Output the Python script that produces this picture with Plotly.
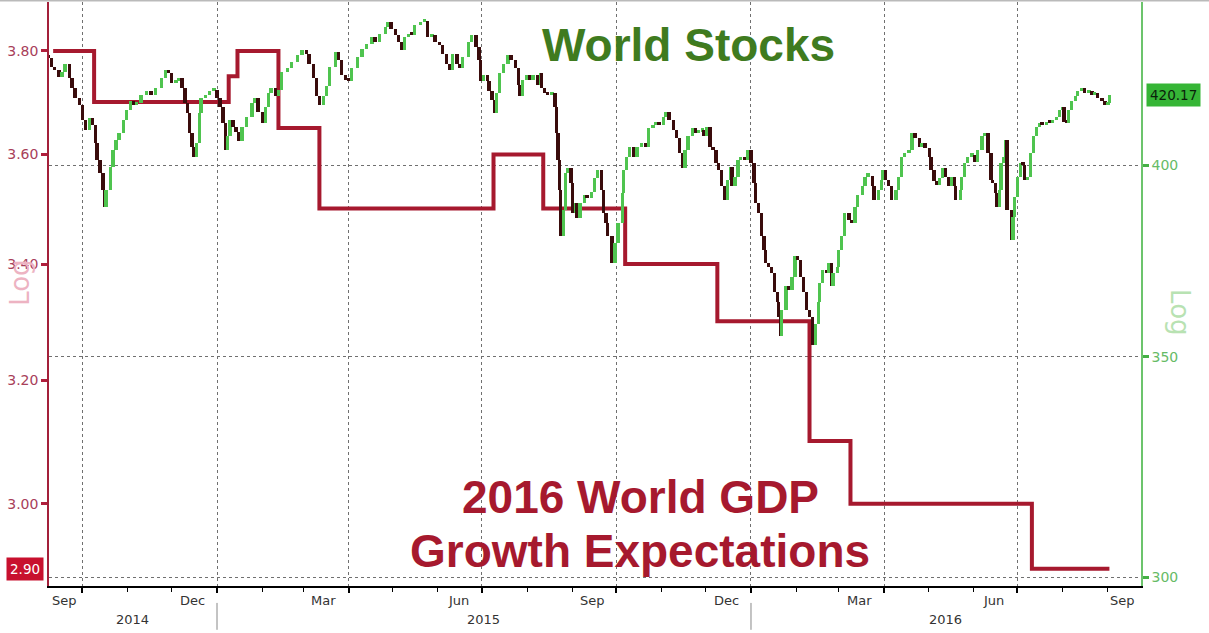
import math
import plotly.graph_objects as go

# ---------------- data ----------------
GDP_DATES = ["2014-09-11", "2014-10-09", "2015-01-09", "2015-01-15", "2015-02-12",
             "2015-03-12", "2015-07-09", "2015-08-12", "2015-10-07", "2015-12-09",
             "2016-02-10", "2016-03-09", "2016-07-11", "2016-09-02"]
GDP_VALUES = [3.80, 3.70, 3.75, 3.80, 3.65, 3.50, 3.60, 3.50, 3.40, 3.30, 3.10, 3.00, 2.90, 2.90]

STOCK_DATES = [
    "2014-09-08", "2014-09-10", "2014-09-12", "2014-09-15", "2014-09-17", "2014-09-19", "2014-09-22",
    "2014-09-24", "2014-09-26", "2014-09-29", "2014-10-01", "2014-10-03", "2014-10-06", "2014-10-08",
    "2014-10-10", "2014-10-11", "2014-10-13", "2014-10-15", "2014-10-16", "2014-10-17", "2014-10-20",
    "2014-10-22", "2014-10-24", "2014-10-26", "2014-10-29", "2014-10-31", "2014-11-03", "2014-11-05",
    "2014-11-07", "2014-11-10", "2014-11-14", "2014-11-17", "2014-11-20", "2014-11-24", "2014-11-27",
    "2014-11-29", "2014-12-01", "2014-12-04", "2014-12-06", "2014-12-08", "2014-12-10", "2014-12-12",
    "2014-12-13", "2014-12-15", "2014-12-16", "2014-12-18", "2014-12-20", "2014-12-21", "2014-12-24",
    "2014-12-27", "2014-12-30", "2015-01-01", "2015-01-03", "2015-01-05", "2015-01-07", "2015-01-08",
    "2015-01-10", "2015-01-12", "2015-01-14", "2015-01-16", "2015-01-18", "2015-01-21", "2015-01-25",
    "2015-01-27", "2015-01-29", "2015-02-01", "2015-02-03", "2015-02-05", "2015-02-07", "2015-02-10",
    "2015-02-12", "2015-02-14", "2015-02-18", "2015-02-21", "2015-02-25", "2015-02-28", "2015-03-03",
    "2015-03-05", "2015-03-08", "2015-03-10", "2015-03-12", "2015-03-15", "2015-03-17", "2015-03-19",
    "2015-03-23", "2015-03-25", "2015-03-27", "2015-03-30", "2015-04-01", "2015-04-03", "2015-04-07",
    "2015-04-10", "2015-04-13", "2015-04-17", "2015-04-19", "2015-04-22", "2015-04-26", "2015-04-28",
    "2015-04-30", "2015-05-03", "2015-05-05", "2015-05-07", "2015-05-09", "2015-05-12", "2015-05-14",
    "2015-05-16", "2015-05-20", "2015-05-23", "2015-05-25", "2015-05-28", "2015-05-30", "2015-06-02",
    "2015-06-04", "2015-06-07", "2015-06-09", "2015-06-11", "2015-06-14", "2015-06-16", "2015-06-18",
    "2015-06-22", "2015-06-24", "2015-06-27", "2015-06-29", "2015-06-30", "2015-07-02", "2015-07-05",
    "2015-07-06", "2015-07-08", "2015-07-10", "2015-07-11", "2015-07-13", "2015-07-16", "2015-07-19",
    "2015-07-21", "2015-07-24", "2015-07-26", "2015-07-27", "2015-07-29", "2015-08-01", "2015-08-03",
    "2015-08-05", "2015-08-08", "2015-08-10", "2015-08-11", "2015-08-13", "2015-08-15", "2015-08-18",
    "2015-08-20", "2015-08-21", "2015-08-22", "2015-08-23", "2015-08-24", "2015-08-26", "2015-08-27",
    "2015-08-29", "2015-08-31", "2015-09-01", "2015-09-03", "2015-09-04", "2015-09-06", "2015-09-09",
    "2015-09-11", "2015-09-14", "2015-09-16", "2015-09-18", "2015-09-21", "2015-09-22", "2015-09-24",
    "2015-09-25", "2015-09-28", "2015-09-30", "2015-10-02", "2015-10-05", "2015-10-06", "2015-10-08",
    "2015-10-10", "2015-10-13", "2015-10-15", "2015-10-18", "2015-10-21", "2015-10-23", "2015-10-26",
    "2015-10-28", "2015-10-30", "2015-11-02", "2015-11-04", "2015-11-06", "2015-11-09", "2015-11-11",
    "2015-11-13", "2015-11-15", "2015-11-17", "2015-11-19", "2015-11-22", "2015-11-24", "2015-11-26",
    "2015-11-29", "2015-11-30", "2015-12-02", "2015-12-04", "2015-12-06", "2015-12-08", "2015-12-10",
    "2015-12-12", "2015-12-14", "2015-12-16", "2015-12-18", "2015-12-19", "2015-12-21", "2015-12-23",
    "2015-12-25", "2015-12-28", "2015-12-30", "2016-01-01", "2016-01-03", "2016-01-04", "2016-01-06",
    "2016-01-08", "2016-01-10", "2016-01-11", "2016-01-13", "2016-01-15", "2016-01-17", "2016-01-19",
    "2016-01-20", "2016-01-21", "2016-01-22", "2016-01-25", "2016-01-27", "2016-01-29", "2016-01-31",
    "2016-02-02", "2016-02-04", "2016-02-06", "2016-02-08", "2016-02-10", "2016-02-12", "2016-02-14",
    "2016-02-16", "2016-02-17", "2016-02-19", "2016-02-22", "2016-02-23", "2016-02-25", "2016-02-26",
    "2016-02-29", "2016-03-01", "2016-03-03", "2016-03-05", "2016-03-08", "2016-03-10", "2016-03-12",
    "2016-03-14", "2016-03-17", "2016-03-19", "2016-03-21", "2016-03-24", "2016-03-25", "2016-03-28",
    "2016-03-30", "2016-03-31", "2016-04-02", "2016-04-04", "2016-04-06", "2016-04-09", "2016-04-11",
    "2016-04-13", "2016-04-15", "2016-04-18", "2016-04-20", "2016-04-22", "2016-04-25", "2016-04-27",
    "2016-04-29", "2016-05-02", "2016-05-03", "2016-05-05", "2016-05-07", "2016-05-09", "2016-05-11",
    "2016-05-13", "2016-05-15", "2016-05-17", "2016-05-19", "2016-05-20", "2016-05-23", "2016-05-24",
    "2016-05-26", "2016-05-28", "2016-05-31", "2016-06-02", "2016-06-04", "2016-06-07", "2016-06-09",
    "2016-06-11", "2016-06-13", "2016-06-14", "2016-06-16", "2016-06-17", "2016-06-19", "2016-06-20",
    "2016-06-22", "2016-06-23", "2016-06-24", "2016-06-27", "2016-06-28", "2016-06-29", "2016-07-01",
    "2016-07-03", "2016-07-05", "2016-07-06", "2016-07-08", "2016-07-10", "2016-07-12", "2016-07-14",
    "2016-07-16", "2016-07-18", "2016-07-21", "2016-07-23", "2016-07-25", "2016-07-28", "2016-07-30",
    "2016-08-01", "2016-08-02", "2016-08-04", "2016-08-05", "2016-08-07", "2016-08-10", "2016-08-11",
    "2016-08-14", "2016-08-16", "2016-08-19", "2016-08-21", "2016-08-23", "2016-08-25", "2016-08-28",
    "2016-08-30", "2016-09-01", "2016-09-02"]

STOCK_CLOSE = [
    431.2, 428.5, 427.6, 425.6, 427.1, 429.5, 425.1, 422.2, 419.3, 417.3, 412.9, 410.1, 413.4, 411.5,
    406.3, 401.6, 397.9, 393.3, 388.7, 393.3, 399.7, 404.4, 407.2, 409.1, 412.9, 415.8, 418.3, 417.3,
    417.8, 420.3, 421.3, 420.3, 422.2, 425.1, 427.6, 426.6, 423.7, 424.2, 425.1, 422.2, 417.8, 414.8,
    409.1, 405.3, 402.5, 406.3, 414.8, 419.3, 420.3, 421.3, 421.8, 419.3, 416.8, 412.0, 404.4, 408.2,
    412.9, 411.0, 409.6, 406.8, 411.0, 413.9, 417.8, 419.3, 415.2, 412.0, 416.8, 420.8, 422.2, 419.8,
    421.8, 427.1, 428.1, 430.0, 432.0, 433.5, 432.5, 429.5, 425.1, 419.8, 417.3, 419.8, 422.7, 428.5,
    433.0, 430.6, 426.1, 424.6, 424.2, 428.1, 431.5, 434.0, 435.5, 437.5, 436.0, 438.6, 440.6, 442.1,
    440.1, 438.1, 436.0, 433.5, 437.5, 438.6, 438.1, 441.1, 442.1, 442.6, 437.5, 438.1, 436.0, 435.0,
    432.5, 429.5, 427.6, 432.5, 429.5, 428.1, 431.5, 435.9, 438.1, 434.5, 430.6, 424.2, 426.1, 424.2,
    421.3, 418.8, 414.8, 420.8, 426.6, 429.5, 432.0, 430.6, 428.1, 423.2, 419.8, 424.6, 426.1, 424.6,
    426.1, 423.2, 426.6, 422.2, 420.8, 420.3, 420.8, 416.8, 409.1, 401.6, 393.3, 380.7, 387.8, 397.9,
    399.2, 395.1, 386.9, 389.6, 385.6, 389.6, 391.9, 391.0, 392.8, 396.5, 398.8, 393.3, 386.9, 384.2,
    380.7, 373.6, 378.9, 384.2, 392.4, 398.8, 402.5, 405.3, 402.5, 405.3, 406.3, 405.3, 410.6, 411.5,
    412.0, 411.5, 413.9, 415.3, 412.9, 410.1, 407.8, 403.6, 399.2, 404.4, 408.2, 410.6, 409.1, 409.6,
    410.1, 408.2, 411.0, 405.3, 404.4, 400.6, 398.8, 394.2, 390.5, 396.0, 399.7, 394.2, 396.9, 401.6,
    402.5, 401.6, 404.4, 400.6, 395.1, 389.6, 386.9, 380.7, 377.1, 373.6, 372.7, 371.0, 366.3, 363.7,
    359.9, 355.0, 361.6, 367.6, 366.7, 370.1, 375.4, 374.5, 370.1, 366.3, 361.6, 359.9, 352.9, 358.2,
    363.7, 368.5, 371.9, 371.0, 373.6, 367.6, 371.0, 372.7, 377.1, 380.7, 386.9, 385.1, 384.2, 388.7,
    391.9, 394.2, 396.9, 397.2, 394.2, 390.5, 393.3, 396.0, 398.8, 396.0, 394.2, 390.5, 393.3, 396.9,
    402.5, 403.5, 404.4, 409.1, 407.8, 405.3, 406.3, 404.9, 402.5, 398.8, 395.6, 394.7, 396.5, 399.2,
    396.9, 394.2, 396.9, 394.2, 390.5, 393.3, 396.9, 400.6, 402.5, 403.0, 401.1, 404.4, 408.2, 409.1,
    403.5, 396.0, 395.1, 392.4, 388.7, 393.3, 400.6, 402.5, 407.2, 387.8, 379.8, 386.0, 391.4, 396.9,
    400.6, 400.0, 396.0, 396.9, 403.5, 408.2, 411.0, 412.0, 411.5, 412.4, 412.0, 412.9, 413.9, 415.8,
    416.8, 412.4, 412.0, 415.8, 418.3, 419.8, 421.3, 422.2, 420.8, 421.3, 420.3, 420.8, 419.3, 418.3,
    417.3, 417.8, 420.17]

LEFT_TICKS = [3.00, 3.20, 3.40, 3.60, 3.80]
RIGHT_TICKS = [300, 350, 400]
MONTH_LABEL_DATES = ["2014-09-19", "2014-12-15", "2015-03-15", "2015-06-15", "2015-09-15",
                     "2015-12-15", "2016-03-15", "2016-06-15", "2016-09-11"]
MONTH_LABELS = ["Sep", "Dec", "Mar", "Jun", "Sep", "Dec", "Mar", "Jun", "Sep"]
YEAR_LABEL_DATES = ["2014-11-04", "2015-07-02", "2016-05-13"]
YEAR_LABELS = ["2014", "2015", "2016"]
YEAR_BREAKS = ["2015-01-01", "2016-01-01"]

# ---------------- derived bars (open = previous close) ----------------
opens = [STOCK_CLOSE[0]] + STOCK_CLOSE[:-1]
highs = [max(o, c) for o, c in zip(opens, STOCK_CLOSE)]
lows = [min(o, c) for o, c in zip(opens, STOCK_CLOSE)]
# minimum drawn height so that flat bars stay visible
spans = [max(h - l, 0.9) for h, l in zip(highs, lows)]

RED = "#A6192E"
GREEN_DARK = "#3F7B1F"
UP = "#4FC44F"
DOWN = "#3A0C0C"
bar_colors = [UP if c > o else DOWN for o, c in zip(opens, STOCK_CLOSE)]
DAY_MS = 86400000

fig = go.Figure()
fig.add_trace(go.Scatter(
    x=GDP_DATES, y=GDP_VALUES, mode="lines", line=dict(color=RED, width=4, shape="hv"),
    yaxis="y", showlegend=False, hoverinfo="skip"))
fig.add_trace(go.Bar(
    x=STOCK_DATES, base=lows, y=spans, width=[2.3 * DAY_MS] * len(STOCK_DATES),
    marker=dict(color=bar_colors, line=dict(width=0)),
    yaxis="y2", showlegend=False, hoverinfo="skip"))

tickfont = dict(family="DejaVu Sans", size=14)

fig.update_layout(
    width=1209, height=633,
    margin=dict(l=49, r=68, t=2, b=47),
    paper_bgcolor="white", plot_bgcolor="white",
    showlegend=False, bargap=0,
    xaxis=dict(
        type="date", range=["2014-09-08 04:00", "2016-09-23 14:00"],
        showline=True, linecolor="black", linewidth=1.5, mirror=False,
        ticks="outside", ticklen=5, tickwidth=1.5, tickcolor="black",
        tick0="2014-10-01", dtick="M3", showticklabels=False,
        showgrid=True, gridcolor="#707070", griddash="dot", gridwidth=1,
        minor=dict(ticks="outside", ticklen=4, tickcolor="black", tickwidth=1,
                   dtick="M1", tick0="2014-09-01", showgrid=False),
        zeroline=False, fixedrange=True),
    yaxis=dict(
        type="log", range=[0.45847, 0.59089],
        tickvals=LEFT_TICKS, ticktext=[f"{v:.2f}" for v in LEFT_TICKS],
        showgrid=False, zeroline=False,
        showline=True, linecolor="#A3203A", linewidth=1.5,
        ticks="outside", ticklen=6, tickwidth=3, tickcolor="#B01E3C",
        tickfont=dict(color="#A8405A", **tickfont)),
    yaxis2=dict(
        type="log", range=[2.47454, 2.65164], overlaying="y", side="right",
        tickvals=RIGHT_TICKS, ticktext=[str(v) for v in RIGHT_TICKS],
        showgrid=True, gridcolor="#707070", griddash="dot", gridwidth=1,
        zeroline=False, showline=True, linecolor="#6CC46C", linewidth=1.5,
        ticks="outside", ticklen=6, tickwidth=3, tickcolor="#45B045",
        tickfont=dict(color="#66BB66", **tickfont)),
)

annotations = []
for d, t in zip(MONTH_LABEL_DATES, MONTH_LABELS):
    annotations.append(dict(x=d, y=-0.024, xref="x", yref="paper", text=t, showarrow=False,
                            xanchor="center", yanchor="middle",
                            font=dict(family="DejaVu Sans", size=13, color="#333333")))
for d, t in zip(YEAR_LABEL_DATES, YEAR_LABELS):
    annotations.append(dict(x=d, y=-0.057, xref="x", yref="paper", text=t, showarrow=False,
                            xanchor="center", yanchor="middle",
                            font=dict(family="DejaVu Sans", size=13, color="#333333")))

title_font = dict(family="Liberation Sans, Arial", size=46, weight="bold")
annotations += [
    dict(x=0.5852, y=0.9264, xref="paper", yref="paper", text="World Stocks", showarrow=False,
         xanchor="center", yanchor="middle", font=dict(color=GREEN_DARK, **title_font)),
    dict(x=0.5421, y=0.1524, xref="paper", yref="paper", text="2016 World GDP", showarrow=False,
         xanchor="center", yanchor="middle", font=dict(color=RED, **title_font)),
    dict(x=0.5412, y=0.0599, xref="paper", yref="paper", text="Growth Expectations", showarrow=False,
         xanchor="center", yanchor="middle", font=dict(color=RED, **title_font)),
    dict(x=-0.0266, y=0.519, xref="paper", yref="paper", text="Log", showarrow=False,
         textangle=-90, xanchor="center", yanchor="middle",
         font=dict(family="DejaVu Sans", size=26, color="#EDB3C2")),
    dict(x=1.0357, y=0.469, xref="paper", yref="paper", text="Log", showarrow=False,
         textangle=90, xanchor="center", yanchor="middle",
         font=dict(family="DejaVu Sans", size=26, color="#B8E2B2")),
    dict(x=1.0302, y=math.log10(STOCK_CLOSE[-1]), xref="paper", yref="y2",
         text=f"{STOCK_CLOSE[-1]:.2f}", showarrow=False, xanchor="center", yanchor="middle",
         bgcolor="#36B536", borderpad=3,
         font=dict(family="DejaVu Sans", size=13.5, color="#0A1F0A")),
    dict(x=-0.022, y=math.log10(GDP_VALUES[-1]), xref="paper", yref="y",
         text=f"{GDP_VALUES[-1]:.2f}", showarrow=False, xanchor="center", yanchor="middle",
         bgcolor="#C8102E", borderpad=3,
         font=dict(family="DejaVu Sans", size=13.5, color="white")),
]
fig.update_layout(annotations=annotations)

shapes = []
for d in YEAR_BREAKS:
    shapes.append(dict(type="line", xref="x", yref="paper", x0=d, x1=d, y0=-0.029, y1=-0.075,
                       line=dict(color="#888888", width=1)))
shapes.append(dict(type="line", xref="paper", yref="paper", x0=-0.05, x1=1.07, y0=1.002, y1=1.002,
                   line=dict(color="#999999", width=1)))
fig.update_layout(shapes=shapes)

fig.write_html("out.html", config={"displayModeBar": False},
               post_script="document.body.style.margin='0px';")
